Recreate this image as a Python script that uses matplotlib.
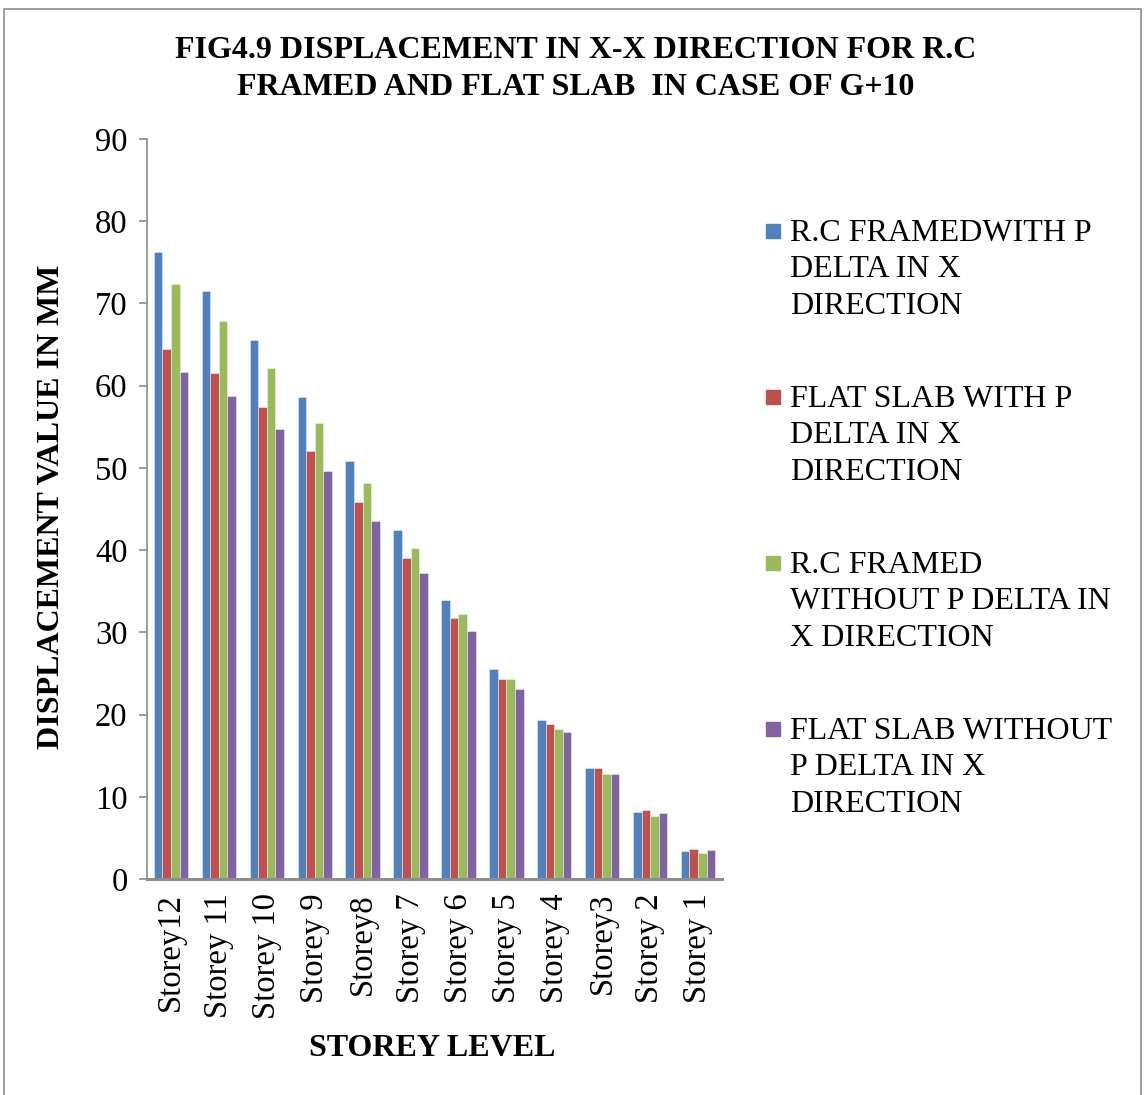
import matplotlib
matplotlib.use("Agg")
import matplotlib.pyplot as plt
from matplotlib.patches import Rectangle
import numpy as np

plt.rcParams['font.family'] = ['Liberation Serif', 'DejaVu Serif']

storeys = ['Storey12', 'Storey 11', 'Storey 10', 'Storey 9', 'Storey8', 'Storey 7',
           'Storey 6', 'Storey 5', 'Storey 4', 'Storey3', 'Storey 2', 'Storey 1']

rc_pdelta = [76.3, 71.5, 65.6, 58.6, 50.8, 42.5, 33.9, 25.6, 19.3, 13.5, 8.1, 3.4]
flat_pdelta = [64.5, 61.5, 57.4, 52.1, 45.9, 39.0, 31.7, 24.3, 18.8, 13.5, 8.4, 3.6]
rc_no_pdelta = [72.4, 67.9, 62.2, 55.5, 48.2, 40.3, 32.2, 24.3, 18.3, 12.8, 7.7, 3.2]
flat_no_pdelta = [61.7, 58.8, 54.7, 49.6, 43.6, 37.2, 30.2, 23.1, 17.9, 12.8, 8.0, 3.5]

series_labels = ['R.C FRAMEDWITH P\nDELTA IN X\nDIRECTION',
                 'FLAT SLAB WITH P\nDELTA IN X\nDIRECTION',
                 'R.C FRAMED\nWITHOUT P DELTA IN\nX DIRECTION',
                 'FLAT SLAB WITHOUT\nP DELTA IN X\nDIRECTION']
colors = ['#4F81BD', '#C0504D', '#9BBB59', '#8064A2']

W, H = 1144, 1095
fig = plt.figure(figsize=(W / 100, H / 100), dpi=100)

# outer frame
fig.patches.append(Rectangle((4 / W, -0.01), 1137 / W, 1 - 9 / H + 0.01,
                             transform=fig.transFigure, fill=False,
                             edgecolor='#8c8c8c', linewidth=1.2))

ax = fig.add_axes([147 / W, (H - 879) / H, (722 - 147) / W, (879 - 139) / H])

x = np.arange(len(storeys))
bw = 0.179
data = [rc_pdelta, flat_pdelta, rc_no_pdelta, flat_no_pdelta]
for i, vals in enumerate(data):
    ax.bar(x + (i - 1.5) * bw, vals, width=bw, color=colors[i],
           edgecolor='#e8eef6', linewidth=0.4)

ax.set_xlim(-0.5, len(storeys) - 0.5)
ax.set_ylim(0, 90)
ax.set_yticks(range(0, 91, 10))
ax.set_xticks(x)
ax.set_xticklabels(storeys, rotation=90, fontsize=23.5)
ax.tick_params(axis='x', length=0, pad=10)
ax.tick_params(axis='y', labelsize=23.5, length=6, width=1.2, color='#8c8c8c',
               direction='out', pad=8)

for side in ['top', 'right']:
    ax.spines[side].set_visible(False)
ax.spines['left'].set_color('#8c8c8c')
ax.spines['left'].set_linewidth(1.2)
ax.spines['bottom'].set_color('#8c8c8c')
ax.spines['bottom'].set_linewidth(2.2)

fig.text(576 / W, 1 - 69 / H,
         'FIG4.9 DISPLACEMENT IN X-X DIRECTION FOR R.C\nFRAMED AND FLAT SLAB  IN CASE OF G+10',
         ha='center', va='center', fontsize=23, fontweight='bold', linespacing=1.4)
fig.text(52 / W, 1 - 507 / H, 'DISPLACEMENT VALUE IN MM', rotation=90,
         ha='center', va='center', fontsize=23, fontweight='bold')
fig.text(432 / W, 1 - 1048 / H, 'STOREY LEVEL', ha='center', va='center',
         fontsize=23, fontweight='bold')

# legend, one block per series
for i, lab in enumerate(series_labels):
    ytop = 231 + 166 * i
    fig.patches.append(Rectangle((766 / W, 1 - (ytop + 7) / H), 14 / W, 14 / H,
                                 transform=fig.transFigure, color=colors[i]))
    fig.text(790 / W, 1 - (ytop - 12) / H, lab, ha='left', va='top',
             fontsize=23, linespacing=1.34)

fig.savefig('out.png', dpi=100)
